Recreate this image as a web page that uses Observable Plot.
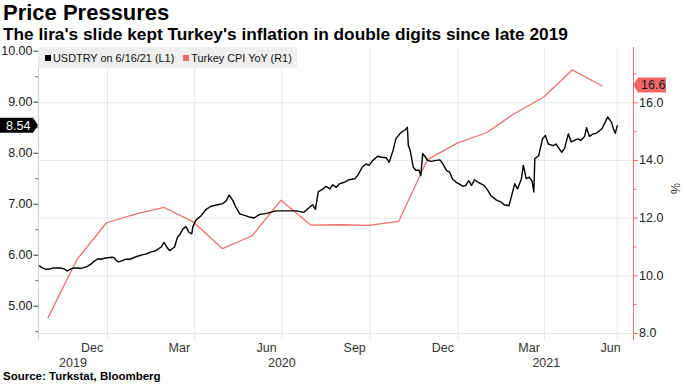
<!DOCTYPE html>
<html><head><meta charset="utf-8">
<script src="https://cdn.jsdelivr.net/npm/d3@7"></script>
<script src="https://cdn.jsdelivr.net/npm/@observablehq/plot@0.6"></script>
<style>
body{margin:0;background:#fff;}
#wrap{position:relative;width:683px;height:384px;overflow:hidden;font-family:"Liberation Sans",Arial,sans-serif;background:#fff;}
#title{position:absolute;left:3px;top:2px;font-size:22px;line-height:22px;font-weight:bold;color:#000;white-space:nowrap}
#subtitle{position:absolute;left:3px;top:25.5px;font-size:17.3px;line-height:17px;font-weight:bold;color:#000;white-space:nowrap}
#legend{position:absolute;left:38px;top:47px;height:21px;padding:0 5px 0 7px;background:#efefef;display:flex;align-items:center;font-size:10.9px;color:#111;white-space:nowrap}
.sw{display:inline-block;width:6px;height:6px;margin-right:2px;}
#chart{position:absolute;left:0;top:44px}
#caption{position:absolute;left:3px;top:371px;font-size:11.5px;line-height:11.5px;font-weight:bold;color:#000;white-space:nowrap}
</style></head>
<body><div id="wrap">
<div id="chart"></div>
<div id="title">Price Pressures</div>
<div id="subtitle">The lira's slide kept Turkey's inflation in double digits since late 2019</div>
<div id="legend"></div>
<div id="caption">Source: Turkstat, Bloomberg</div>
</div>
<script>
// ---- data ----
const usdDates = ["2019-10-22","2019-10-25","2019-10-29","2019-11-01","2019-11-06","2019-11-10","2019-11-13","2019-11-17","2019-11-20","2019-11-24","2019-11-27","2019-12-01","2019-12-04","2019-12-08","2019-12-11","2019-12-15","2019-12-18","2019-12-22","2019-12-25","2019-12-29",
"2020-01-01","2020-01-06","2020-01-08","2020-01-10","2020-01-13","2020-01-17","2020-01-20","2020-01-24","2020-01-27","2020-01-31","2020-02-03","2020-02-07","2020-02-10","2020-02-15","2020-02-19","2020-02-22","2020-02-26","2020-02-29","2020-03-04","2020-03-06",
"2020-03-11","2020-03-14","2020-03-16","2020-03-20","2020-03-23","2020-03-26","2020-03-29","2020-03-30","2020-04-02","2020-04-08","2020-04-13","2020-04-18","2020-04-25","2020-04-30","2020-05-04","2020-05-07","2020-05-11","2020-05-14","2020-05-18","2020-05-23",
"2020-05-28","2020-06-02","2020-06-08","2020-06-15","2020-06-25","2020-07-05","2020-07-16","2020-07-24","2020-07-28","2020-08-02","2020-08-05","2020-08-08","2020-08-13","2020-08-16","2020-08-20","2020-08-23","2020-08-27","2020-08-30","2020-09-04","2020-09-09",
"2020-09-15","2020-09-18","2020-09-23","2020-09-27","2020-09-30","2020-10-04","2020-10-09","2020-10-13","2020-10-18","2020-10-21","2020-10-25","2020-10-28","2020-11-01","2020-11-04","2020-11-07","2020-11-09","2020-11-10","2020-11-12","2020-11-15","2020-11-18",
"2020-11-21","2020-11-23","2020-11-25","2020-11-28","2020-11-30","2020-12-04","2020-12-09","2020-12-13","2020-12-16","2020-12-20","2020-12-23","2020-12-26","2020-12-30","2021-01-02","2021-01-06","2021-01-09","2021-01-12","2021-01-15","2021-01-18","2021-01-22",
"2021-01-25","2021-01-28","2021-02-01","2021-02-04","2021-02-10","2021-02-15","2021-02-18","2021-02-23","2021-02-25","2021-03-01","2021-03-04","2021-03-08","2021-03-10","2021-03-13","2021-03-16","2021-03-19","2021-03-21","2021-03-22","2021-03-26","2021-03-30",
"2021-04-02","2021-04-05","2021-04-10","2021-04-13","2021-04-19","2021-04-22","2021-04-26","2021-04-29","2021-05-02","2021-05-06","2021-05-09","2021-05-13","2021-05-15","2021-05-18","2021-05-22","2021-05-25","2021-05-29","2021-05-31","2021-06-03","2021-06-06",
"2021-06-10","2021-06-12","2021-06-14","2021-06-16"];
const usdValues = [5.79,5.75,5.72,5.73,5.75,5.75,5.75,5.73,5.69,5.73,5.75,5.75,5.74,5.76,5.78,5.83,5.88,5.93,5.92,5.94,
5.95,5.96,5.95,5.90,5.87,5.90,5.92,5.92,5.94,5.97,5.99,6.01,6.02,6.06,6.08,6.11,6.16,6.25,6.13,6.09,
6.16,6.35,6.39,6.52,6.56,6.45,6.42,6.55,6.68,6.78,6.90,6.96,6.99,7.01,7.07,7.18,7.07,6.94,6.81,6.78,
6.75,6.73,6.80,6.82,6.87,6.87,6.87,6.84,6.91,6.99,6.90,7.24,7.30,7.35,7.30,7.38,7.33,7.40,7.43,7.48,
7.50,7.56,7.73,7.79,7.76,7.86,7.94,7.92,7.91,7.82,8.05,8.28,8.38,8.43,8.46,8.51,8.15,8.05,7.73,7.66,
7.67,7.56,7.99,7.92,7.86,7.84,7.86,7.87,7.79,7.66,7.63,7.50,7.43,7.40,7.35,7.37,7.46,7.37,7.48,7.43,
7.40,7.37,7.27,7.17,7.08,7.04,6.99,6.97,7.11,7.40,7.30,7.50,7.76,7.50,7.53,7.46,7.24,7.89,7.95,8.28,
8.35,8.18,8.15,8.18,8.02,8.09,8.38,8.22,8.25,8.28,8.25,8.33,8.50,8.33,8.38,8.39,8.45,8.48,8.59,8.71,
8.61,8.48,8.39,8.54];
const cpiDates = ["2019-10-31","2019-11-30","2019-12-31","2020-01-31","2020-02-29","2020-03-31","2020-04-30","2020-05-31","2020-06-30","2020-07-31","2020-08-31","2020-09-30","2020-10-31","2020-11-30","2020-12-31","2021-01-31","2021-02-28","2021-03-31","2021-04-30","2021-05-31"];
const cpiValues = [8.55,10.56,11.84,12.15,12.37,11.86,10.94,11.39,12.62,11.76,11.77,11.75,11.89,14.03,14.60,14.97,15.61,16.19,17.14,16.59];
const lastUsd = 8.54, lastCpi = 16.6;
const leftDomain = [4.327, 10.073];
const rightDomain = [7.757, 17.917];
const leftTicks = [5, 6, 7, 8, 9, 10];
const leftMinor = [4.5, 5.5, 6.5, 7.5, 8.5, 9.5];
const rightTicks = [8, 10, 12, 14, 16];
const rightMinor = [9, 11, 13, 15, 17];
const xDomain = ["2019-10-21", "2021-07-03"];
const gridDates = ["2020-01-01","2020-04-01","2020-07-01","2020-10-01","2021-01-01","2021-04-01","2021-06-16"];
const monthLabels = ["Dec","Mar","Jun","Sep","Dec","Mar","Jun"];
const monthLabelDates = ["2019-12-16","2020-03-16","2020-06-15","2020-09-15","2020-12-16","2021-03-16","2021-06-09"];
const yearLabels = ["2019","2020","2021"];
const yearLabelDates = ["2019-11-26","2020-07-01","2021-04-03"];
const seriesNames = ["USDTRY on 6/16/21 (L1)", "Turkey CPI YoY (R1)"];

const RED = "#f07070", BLACK = "#000";
const toL = r => leftDomain[0] + (r - rightDomain[0]) * (leftDomain[1] - leftDomain[0]) / (rightDomain[1] - rightDomain[0]);
const fromL = l => rightDomain[0] + (l - leftDomain[0]) * (rightDomain[1] - rightDomain[0]) / (leftDomain[1] - leftDomain[0]);

const usd = usdDates.map((d, i) => ({date: new Date(d), value: usdValues[i]}));
const cpi = cpiDates.map((d, i) => ({date: new Date(d), value: cpiValues[i]}));

function tag(value, side, fill, color, label) {
  return (index, scales, values, dims) => {
    const y = scales.y(value);
    const h = 7.5;
    let pts, tx;
    if (side === "left") {
      const x1 = dims.marginLeft;
      pts = [[0, y - h], [x1 - 5, y - h], [x1, y], [x1 - 5, y + h], [0, y + h]];
      tx = 6;
    } else {
      const x0 = dims.width - dims.marginRight;
      pts = [[x0, y], [x0 + 5, y - h], [x0 + 33, y - h], [x0 + 33, y + h], [x0 + 5, y + h]];
      tx = x0 + 8;
    }
    const g = d3.create("svg:g");
    g.append("polygon").attr("points", pts.map(p => p.join(",")).join(" ")).attr("fill", fill);
    g.append("text").attr("x", tx).attr("y", y).attr("dy", "0.36em").attr("text-anchor", "start")
      .attr("fill", color).attr("font-size", 12.5).text(label);
    return g.node();
  };
}

const chart = Plot.plot({
  width: 683, height: 325,
  marginTop: 3, marginBottom: 29, marginLeft: 38, marginRight: 50,
  style: {fontFamily: "'Liberation Sans', Arial, sans-serif", fontSize: "12.5px", background: "white", overflow: "visible", color: "#222"},
  x: {type: "utc", domain: xDomain.map(d => new Date(d)), axis: null},
  y: {domain: leftDomain},
  marks: [
    Plot.ruleY(rightTicks, {y: toL, stroke: "#e6e6e6"}),
    Plot.ruleX(gridDates, {x: d => new Date(d), stroke: "#e6e6e6"}),
    Plot.ruleX([xDomain[0]], {x: d => new Date(d), stroke: "#cfcfcf"}),
    Plot.ruleX([xDomain[1]], {x: d => new Date(d), stroke: RED}),
    Plot.axisY({anchor: "left", ticks: leftTicks, tickFormat: d => d.toFixed(2), tickSize: 4.5, tickPadding: 1.5, stroke: "#333", fill: "#222", fontSize: 12.5, label: null}),
    Plot.axisY({anchor: "left", ticks: leftMinor, tickFormat: () => "", tickSize: 2.5, stroke: "#555", label: null}),
    Plot.axisY({anchor: "right", ticks: rightTicks.map(toL), tickFormat: l => fromL(l).toFixed(1), tickSize: 4, tickPadding: 1.5, stroke: RED, fill: "#222", fontSize: 12.5, label: null}),
    Plot.axisY({anchor: "right", ticks: rightMinor.map(toL), tickFormat: () => "", tickSize: 2.5, stroke: RED, label: null}),
    Plot.text(monthLabels, {x: (d, i) => new Date(monthLabelDates[i]), text: d => d, frameAnchor: "bottom", dy: 7.5, lineAnchor: "middle", fill: "#333", fontSize: 12.5}),
    Plot.text(yearLabels, {x: (d, i) => new Date(yearLabelDates[i]), text: d => d, frameAnchor: "bottom", dy: 22.5, lineAnchor: "middle", fill: "#333", fontSize: 12.5}),
    Plot.text(["%"], {text: d => d, frameAnchor: "right", dx: 41, rotate: 90, fill: "#333", fontSize: 12.5}),
    Plot.line(cpi, {x: "date", y: d => toL(d.value), stroke: RED, strokeWidth: 1.3}),
    Plot.line(usd, {x: "date", y: "value", stroke: BLACK, strokeWidth: 1.4}),
    tag(lastUsd, "left", "#000", "#fff", lastUsd.toFixed(2)),
    tag(toL(lastCpi), "right", "#f26868", "#1a1a1a", lastCpi.toFixed(1))
  ]
});
document.getElementById("chart").appendChild(chart);

const legend = document.getElementById("legend");
[[seriesNames[0], BLACK], [seriesNames[1], "#f26868"]].forEach(([name, c], i) => {
  const item = document.createElement("span");
  item.style.display = "inline-flex"; item.style.alignItems = "center";
  if (i > 0) item.style.marginLeft = "9px";
  const sw = document.createElement("span"); sw.className = "sw"; sw.style.background = c;
  item.appendChild(sw);
  item.appendChild(document.createTextNode(name));
  legend.appendChild(item);
});
</script>
</body></html>
